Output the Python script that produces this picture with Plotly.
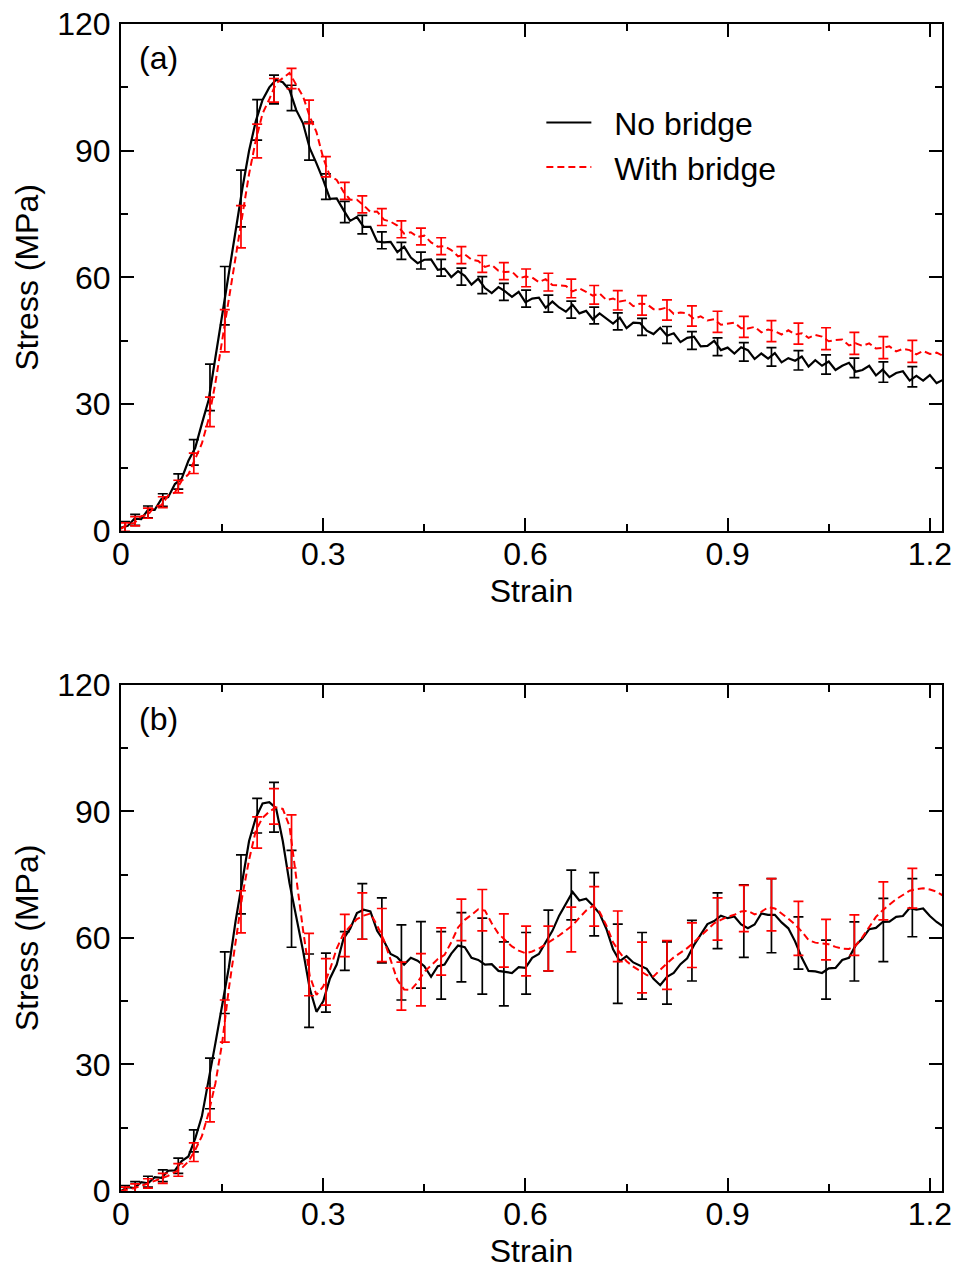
import plotly.graph_objects as go
from plotly.subplots import make_subplots

# ---------------- data ----------------
strain = [i / 100 for i in range(123)]  # 0.00 ... 1.22 grid of the curves

# Panel (a)
a_no_bridge = [0.8, 1.2, 2.9, 2.8, 5.0, 5.0, 7.6, 8.0, 11.1, 12.4,
               16.6, 19.6, 25.4, 31, 41, 51, 62, 72, 81, 90,
               97, 102, 105, 106.8, 106.2, 104.4, 99.6, 96.5, 90.6, 87,
               83.1, 78.6, 78.7, 76.0, 73.4, 74.3, 72.0, 72.0, 68.5, 68.3,
               68.4, 66.0, 67.3, 64.7, 63.4, 64.2, 64.3, 61.8, 62.1, 60.1,
               61.5, 60.4, 58.3, 59.7, 57.5, 56.3, 57.7, 56.7, 55.4, 56.6,
               54.1, 55.0, 55.2, 52.8, 54.3, 52.9, 51.9, 53.5, 51.5, 52.1,
               50.1, 51.5, 50.3, 49.1, 50.5, 48.0, 49.3, 49.2, 47.4, 46.6,
               48.1, 46.2, 46.8, 44.7, 45.7, 46.0, 43.7, 43.8, 45.0, 42.8,
               43.4, 42.0, 43.5, 42.8, 40.7, 42.0, 40.8, 42.1, 39.9, 40.9,
               40.3, 41.3, 38.9, 40.4, 39.1, 40.1, 38.1, 39.1, 39.8, 37.7,
               38.1, 39.1, 36.8, 38.2, 36.4, 37.4, 37.8, 35.6, 36.7, 35.6,
               36.9, 35.0, 35.8]
a_with_bridge = [0.5, 1.6, 1.9, 3.5, 3.8, 5.8, 6.1, 8.4, 9.1, 11.9,
                 13.4, 17.2, 20.7, 26.5, 35, 45, 55, 65, 75, 84.5,
                 92.5, 98.8, 102.2, 105.9, 107.2, 108.4, 105.6, 102.9, 98.1, 94.4,
                 88.3, 84.0, 83.1, 80.3, 78.4, 78.4, 77.1, 75.5, 75.6, 73.7,
                 73.2, 72.3, 70.4, 70.7, 69.6, 69.9, 68.3, 67.3, 67.4, 66.5,
                 65.0, 65.5, 64.2, 63.9, 62.5, 63.0, 61.6, 61.3, 61.4, 59.8,
                 60.2, 60.0, 58.9, 59.6, 58.2, 58.1, 58.0, 56.7, 57.4, 56.6,
                 55.7, 56.2, 54.7, 55.0, 54.3, 54.6, 53.2, 53.8, 53.7, 52.5,
                 52.5, 52.9, 51.4, 51.7, 51.5, 50.2, 50.8, 49.8, 50.1, 48.8,
                 49.1, 49.3, 48.0, 47.9, 48.3, 47.0, 47.7, 47.3, 46.5, 47.5,
                 46.5, 46.8, 45.7, 46.4, 46.0, 44.9, 45.2, 45.3, 43.9, 44.4,
                 43.8, 44.4, 43.2, 43.3, 43.7, 42.5, 43.1, 42.8, 41.8, 42.6,
                 41.9, 42.2, 41.4]

# Panel (b)
b_no_bridge = [0, 0.9, 0.7, 2.1, 1.8, 3.3, 3.1, 4.8, 4.9, 7.1,
               8.2, 12.4, 17.7, 26, 35, 44, 53, 64, 73, 83,
               88.5, 91.9, 92.2, 90.8, 83, 73, 65, 57, 48, 42.5,
               45, 50.4, 53.7, 59.8, 62.2, 65.9, 66.7, 66.3, 61.7, 59.3,
               56.2, 55.4, 53.7, 55.3, 54.6, 53.3, 50.8, 53.3, 53.7, 56.3,
               58.2, 57.8, 55.3, 54.8, 53.7, 53.8, 52.2, 51.9, 51.7, 53.1,
               52.9, 55.3, 56.2, 59, 61.7, 65.3, 68.2, 70.9, 68.9, 69.3,
               67.7, 65.8, 62.2, 57.3, 54.5, 55.7, 54.2, 53.5, 52.7, 50.3,
               48.8, 50.8, 51.7, 53.8, 55.2, 58.3, 60.7, 63.3, 64, 65.3,
               64.7, 65.1, 63.2, 62.3, 63.2, 65.8, 65.5, 65.5, 63.7, 62.3,
               59.2, 55.3, 52.2, 52.1, 51.7, 52.8, 52.9, 54.8, 55.3, 58.3,
               59.9, 62.1, 62.4, 63.8, 63.9, 65, 65.2, 67.1, 66.7, 67,
               65.2, 63.8, 62.7]
b_with_bridge = [0, 0.3, 0.7, 1.2, 1.8, 2.3, 2.9, 3.6, 4.5, 5.4,
                 7, 9.7, 13, 18.5, 25.5, 35, 48, 59, 70, 78.5,
                 85.5, 88.5, 90, 91, 90.6, 86.5, 74, 62, 51, 46.5,
                 48.5, 52.5, 57.5, 61, 62.8, 64.5, 65.3, 65.8, 63, 59.5,
                 54.8, 50, 47.8, 47.7, 49.5, 52, 53.5, 55, 56, 59,
                 62.5, 64.3, 65.5, 66.8, 66.5, 63.5, 61, 59.5, 58, 57,
                 56.4, 56.8, 57.5, 58.5, 59.5, 60.6, 61.8, 63, 64.8, 66.5,
                 67.6, 66.2, 63, 59, 56.5, 54.5, 53.2, 52.2, 51.2, 50.9,
                 52.5, 54, 55.4, 56.5, 57.6, 59, 60.5, 62, 63.5, 64.3,
                 65, 65.5, 66.3, 66.4, 65.6, 66.2, 67.3, 67, 65.9, 64.6,
                 63.2, 61.5, 59.5, 58.9, 58.7, 58.5, 57.9, 57.5, 57.4, 58.2,
                 60.2, 62.5, 65, 66.6, 68, 69.2, 70.2, 71.2, 71.6, 71.8,
                 71.5, 71, 70]

# error-bar positions (shared) and values
err_strain = [0.006, 0.021, 0.040, 0.062, 0.085, 0.108, 0.132, 0.154, 0.178, 0.202,
              0.227, 0.253, 0.279, 0.304, 0.332, 0.358, 0.387, 0.416, 0.445, 0.475,
              0.505, 0.536, 0.568, 0.601, 0.634, 0.668, 0.702, 0.737, 0.773, 0.810,
              0.847, 0.885, 0.924, 0.965, 1.005, 1.046, 1.088, 1.131, 1.174]

a_nb_mean = [1.0, 2.6, 4.5, 7.3, 11.7, 18.6, 34, 55.7, 78.7, 97.3,
             104.5, 102.5, 92.3, 81.5, 75.5, 72.5, 68.8, 66.3, 64, 62.3,
             60.2, 58.2, 56.6, 55, 53.8, 52.4, 51, 49.6, 48.3, 46.4,
             45.1, 43.6, 42.4, 41.2, 40.4, 39.4, 38.6, 37.6, 36.5]
a_nb_err = [1.2, 1.3, 1.4, 1.5, 1.8, 3, 5.5, 6.9, 6.7, 4.8,
            3.4, 3, 4.5, 3, 2.5, 2.2, 2, 2, 2, 2,
            2, 2, 2, 2, 2, 2, 2, 2, 2, 2,
            2.1, 2.1, 2.2, 2.2, 2.3, 2.3, 2.3, 2.4, 2.4]
a_wb_mean = [0.9, 2.3, 4.2, 6.8, 10.5, 16, 28.2, 47.4, 72, 92.3,
             104.3, 107.1, 99.2, 86.2, 80.5, 77.3, 74.3, 71.4, 69.7, 67.4,
             65.3, 63.2, 61.5, 59.9, 58.9, 57.4, 55.9, 54.6, 53.4, 52.3,
             50.9, 49.5, 48.3, 47.3, 46.7, 45.5, 44.4, 43.4, 42.5]
a_wb_err = [1, 1.1, 1.2, 1.3, 1.5, 2.4, 3.5, 5, 5, 4,
            2.8, 2.4, 2.8, 2.4, 2, 2, 2, 2, 2, 2,
            2, 2, 2, 2.1, 2.1, 2.2, 2.2, 2.3, 2.3, 2.4,
            2.4, 2.5, 2.5, 2.5, 2.5, 2.6, 2.6, 2.6, 2.6]

b_nb_mean = [0.3, 1, 2.2, 3.6, 6, 11.9, 25.5, 49.4, 72.7, 89,
             91, 69.3, 47.5, 49.4, 56.9, 66.3, 61.8, 54.2, 56, 53.5,
             57.8, 55.7, 51.5, 54, 59.4, 70.2, 68, 53.9, 53.4, 51.7,
             57, 64.1, 64, 65.3, 58.8, 52.5, 56.8, 61.9, 67.2]
b_nb_err = [1, 1.2, 1.3, 1.4, 1.8, 2.6, 6, 7.3, 7, 4.1,
            5.9, 11.5, 8.7, 7, 4.6, 6.6, 7.7, 8.9, 7.9, 8,
            8.2, 9, 7.6, 7.3, 7.2, 5.9, 7.5, 9.4, 7.9, 7.4,
            7.2, 6.6, 8.6, 8.8, 6.2, 7, 7, 7.5, 6.9]
b_wb_mean = [0.1, 0.7, 1.8, 3, 5, 9.2, 20.4, 40.3, 66.2, 85,
             91.2, 82.9, 53.7, 49.6, 60.6, 65.2, 60.7, 48.6, 50.1, 56.8,
             64.3, 66.6, 59.4, 56.9, 57.5, 62, 67.5, 60.4, 53, 53.6,
             58.3, 64.5, 67, 67.9, 62.3, 59.6, 60.7, 68.8, 71.8]
b_wb_err = [0.8, 1, 1.1, 1.2, 1.5, 2.2, 4, 5, 5, 3.7,
            4.2, 6.3, 7.4, 5.5, 5, 5.5, 6.3, 5.7, 6.2, 5.6,
            4.9, 4.9, 6.3, 5.9, 5.3, 5.3, 4.7, 6, 6, 5.8,
            5.3, 5, 5.5, 6.2, 6.4, 4.8, 4.8, 4.5, 4.7]

x_ticks = [0, 0.3, 0.6, 0.9, 1.2]
x_tick_text = ["0", "0.3", "0.6", "0.9", "1.2"]
y_ticks = [0, 30, 60, 90, 120]
y_tick_text = ["0", "30", "60", "90", "120"]
names = ["No bridge", "With bridge"]

# ---------------- figure ----------------
BLACK = "#000000"
RED = "#ff0000"
FONT = "Liberation Sans, Arial, sans-serif"
FS = 32
NB = "\u00a0\u00a0"

fig = make_subplots(rows=2, cols=1, vertical_spacing=0.1328)

panels = [
    (1, a_no_bridge, a_with_bridge, a_nb_mean, a_nb_err, a_wb_mean, a_wb_err),
    (2, b_no_bridge, b_with_bridge, b_nb_mean, b_nb_err, b_wb_mean, b_wb_err),
]
for row, nb, wb, nbm, nbe, wbm, wbe in panels:
    show = row == 1
    fig.add_trace(go.Scatter(x=strain, y=nb, mode="lines", name=NB + names[0],
                             line=dict(color=BLACK, width=2.2), showlegend=show,
                             legendgroup="nb"), row=row, col=1)
    fig.add_trace(go.Scatter(x=err_strain, y=nbm, mode="markers",
                             marker=dict(size=1, color=BLACK), showlegend=False,
                             error_y=dict(type="data", array=nbe, color=BLACK,
                                          thickness=1.7, width=5),
                             legendgroup="nb"), row=row, col=1)
    fig.add_trace(go.Scatter(x=strain, y=wb, mode="lines", name=NB + names[1],
                             line=dict(color=RED, width=2, dash="7px,4px"),
                             showlegend=show, legendgroup="wb"), row=row, col=1)
    fig.add_trace(go.Scatter(x=err_strain, y=wbm, mode="markers",
                             marker=dict(size=1, color=RED), showlegend=False,
                             error_y=dict(type="data", array=wbe, color=RED,
                                          thickness=1.7, width=5),
                             legendgroup="wb"), row=row, col=1)

axis_common = dict(showline=True, linewidth=2, linecolor=BLACK, mirror="ticks",
                   ticks="inside", ticklen=13, tickwidth=2, tickcolor=BLACK,
                   showgrid=False, zeroline=False, automargin=False,
                   tickfont=dict(family=FONT, size=FS, color=BLACK))

for row, dom in [(1, [0.5656, 1.0]), (2, [0.0, 0.4336])]:
    fig.update_xaxes(range=[0, 1.218], tickvals=x_ticks, ticktext=x_tick_text,
                     minor=dict(tickvals=[0.15, 0.45, 0.75, 1.05], ticks="inside",
                                ticklen=7, tickwidth=2, tickcolor=BLACK),
                     title=dict(text="Strain", font=dict(family=FONT, size=FS, color=BLACK),
                                standoff=8),
                     ticklabelstandoff=-6,
                     row=row, col=1, **axis_common)
    fig.update_yaxes(range=[0, 120], tickvals=y_ticks, ticktext=y_tick_text,
                     minor=dict(tickvals=[15, 45, 75, 105], ticks="inside",
                                ticklen=7, tickwidth=2, tickcolor=BLACK),
                     title=dict(text="Stress (MPa)", font=dict(family=FONT, size=FS, color=BLACK),
                                standoff=9),
                     ticklabelstandoff=2, domain=dom,
                     row=row, col=1, **axis_common)

fig.add_annotation(text="(a)", x=0.02, y=0.933, xref="x domain", yref="y domain",
                   xanchor="left", yanchor="middle", showarrow=False,
                   font=dict(family=FONT, size=FS, color=BLACK))
fig.add_annotation(text="(b)", x=0.02, y=0.933, xref="x2 domain", yref="y2 domain",
                   xanchor="left", yanchor="middle", showarrow=False,
                   font=dict(family=FONT, size=FS, color=BLACK))

fig.update_layout(
    width=954, height=1270,
    margin=dict(l=121, r=12, t=24, b=79),
    paper_bgcolor="white", plot_bgcolor="white",
    font=dict(family=FONT, size=FS, color=BLACK),
    legend=dict(x=0.512, y=0.9390, xanchor="left", yanchor="top",
                bgcolor="rgba(0,0,0,0)", font=dict(family=FONT, size=FS, color=BLACK),
                tracegroupgap=0, itemwidth=45),
    showlegend=True,
)

fig.write_html("out.html")
